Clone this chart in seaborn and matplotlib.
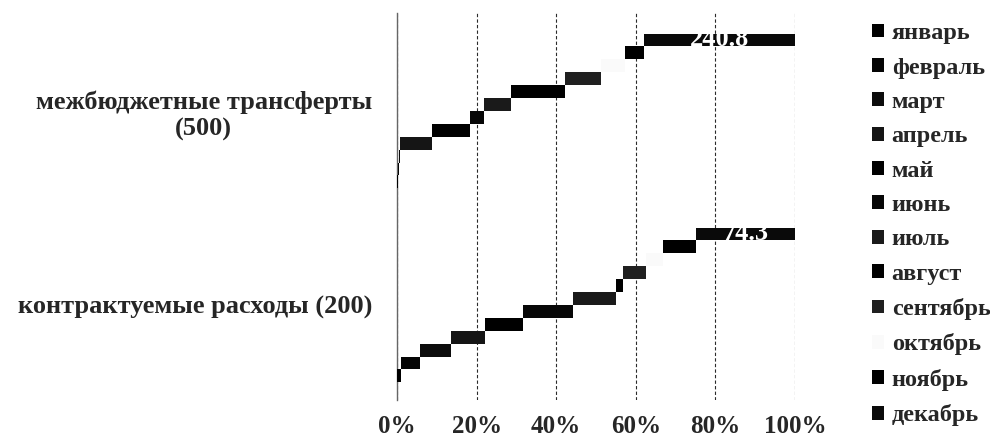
import numpy as np
import matplotlib.pyplot as plt
from matplotlib.patches import Patch
import seaborn as sns

# DATA

months = ["январь", "февраль", "март", "апрель", "май", "июнь",
          "июль", "август", "сентябрь", "октябрь", "ноябрь", "декабрь"]
categories = ["контрактуемые расходы (200)", "межбюджетные трансферты\n(500)"]
contract = [2.7, 14.9, 22.7, 25.4, 28.9, 37.6, 31.6, 5.7, 17.3, 12.2, 24.8, 74.3]
transfers = [1.3, 1.9, 1.9, 51.5, 59.7, 22.9, 43.2, 86.4, 57.2, 37.5, 31.1, 240.8]
month_colors = ["#000000", "#050505", "#0c0c0c", "#151515", "#000000", "#070707",
                "#1a1a1a", "#000000", "#202020", "#fafafa", "#000000", "#0a0a0a"]
tick_vals = [0, 20, 40, 60, 80, 100]

# PLOTTING

sns.set_theme(style="white")
plt.rcParams['font.family'] = ['Liberation Serif', 'DejaVu Serif']

fig = plt.figure(figsize=(9.9, 4.37), dpi=100)
ax = fig.add_axes([0.401, 0.0847, 0.402, 0.8856])

series = np.array([contract, transfers], dtype=float)   # rows = categories
shares = series / series.sum(axis=1, keepdims=True) * 100
lefts = np.cumsum(shares, axis=1) - shares

n = len(months)
h = 0.0665
ypos = np.arange(len(categories))

for i in range(n):
    y = ypos - n / 2 * h + (i + 0.5) * h
    bars = ax.barh(y, shares[:, i], left=lefts[:, i], height=h,
                   color=month_colors[i], edgecolor="none", zorder=3)
    if i == n - 1:
        labels = [f"{v:.1f}" for v in series[:, i]]
        ax.bar_label(bars, labels=labels, label_type="center", color="white",
                     fontsize=19, fontweight="bold", zorder=4)

ax.set_xlim(0, 100)
ax.set_ylim(-0.49, 1.505)
ax.set_xticks(tick_vals)
ax.set_xticklabels([f"{t}%" for t in tick_vals], fontsize=18, fontweight="bold")
ax.set_yticks(ypos)
ax.set_yticklabels(categories, fontsize=19, fontweight="bold")
for lab in ax.get_yticklabels():
    lab.set_multialignment("center")
ax.tick_params(axis="x", length=0, pad=11)
ax.tick_params(axis="y", length=0, pad=18)

ax.xaxis.grid(True, color="#2a2a2a", linestyle=(0, (3, 2)), lw=0.8, zorder=0)
ax.yaxis.grid(False)
sns.despine(ax=ax, left=False, bottom=True, top=True, right=True)
ax.spines["left"].set_color("#666666")
ax.spines["left"].set_linewidth(1.0)

handles = [Patch(facecolor=c, edgecolor="none") for c in month_colors]
fig.legend(handles, months, loc="upper left", bbox_to_anchor=(0.881, 0.947),
           frameon=False, prop={"size": 17.5, "weight": "bold"},
           handlelength=0.5, handleheight=0.5, handletextpad=0.3,
           labelspacing=0.55, borderpad=0, borderaxespad=0)

plt.savefig("out.png", dpi=100)
